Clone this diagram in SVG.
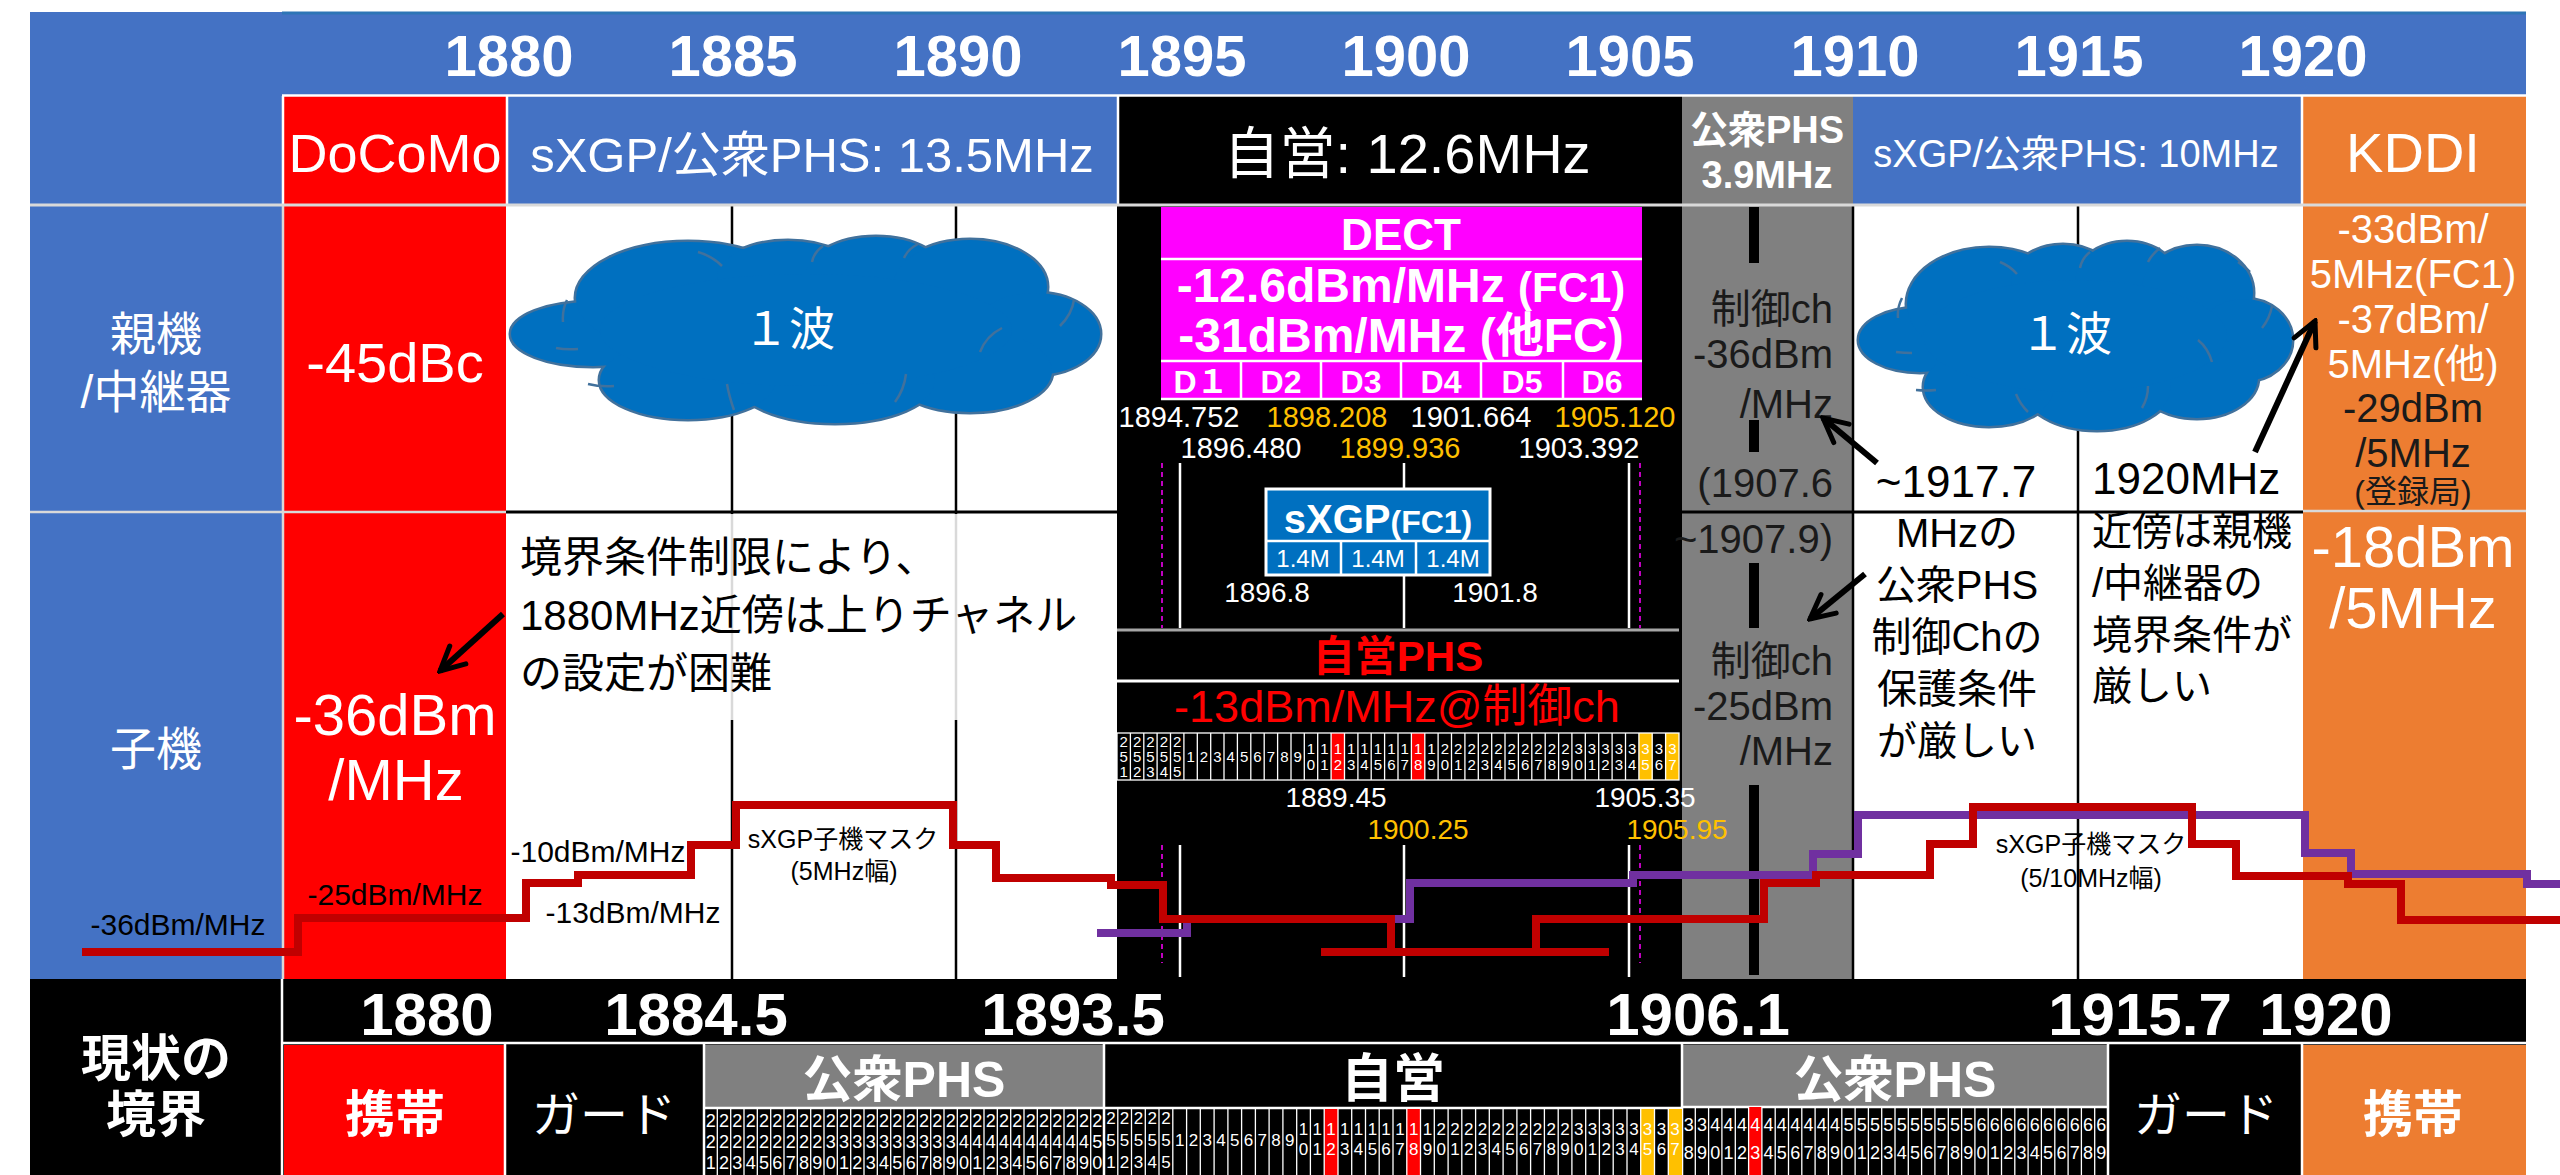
<svg xmlns="http://www.w3.org/2000/svg" width="2560" height="1175" viewBox="0 0 2560 1175">
<style>
text{font-family:"Liberation Sans","Noto Sans CJK JP",sans-serif;}
.c{text-anchor:middle}
.e{text-anchor:end}
.b{font-weight:bold}
.w{fill:#fff}
.k{fill:#000}
.dk{fill:#1a1a1a}
.or{fill:#FFC000}
.rt{fill:#FF0000}
.blue{fill:#4472C4}
.red{fill:#FF0000}
.orange{fill:#ED7D31}
.gray{fill:#808080}
.blk{fill:#000}
.vl{stroke:#000;stroke-width:2.5;fill:none}
.lg{stroke:#D9D9D9;stroke-width:2.5;fill:none}
.wl{stroke:#fff;stroke-width:2.5;fill:none}
.grid{stroke:#fff;stroke-width:1.3;fill:none}
.cl1 ellipse{fill:#0070C0;stroke:#41719C;stroke-width:5}
.cl2 ellipse{fill:#0070C0}
.ca{fill:none;stroke:#41719C;stroke-width:2.5}
.mr{fill:none;stroke:#C00000;stroke-width:8}
.mp{fill:none;stroke:#7030A0;stroke-width:8}
.arr{fill:none;stroke:#000;stroke-width:6;marker-end:url(#ah)}
.bar{fill:#000}
.dash{stroke:#FF00FF;stroke-width:1.5;stroke-dasharray:5 4;fill:none}
</style>
<defs>
<marker id="ah" markerUnits="userSpaceOnUse" markerWidth="32" markerHeight="32" viewBox="0 0 32 32" refX="29" refY="16" orient="auto">
<path d="M5,4 L29,16 L5,28" fill="none" stroke="#000" stroke-width="5" stroke-linecap="round" stroke-linejoin="miter"/>
</marker>
</defs>
<rect width="2560" height="1175" fill="#fff"/>

<g id="row-labels">
<rect x="30" y="12" width="252" height="967" class="blue"/>
<text x="156" y="350" class="c w" font-size="46">親機</text>
<text x="156" y="408" class="c w" font-size="46">/中継器</text>
<text x="156" y="765" class="c w" font-size="46">子機</text>
</g>

<g id="freq-axis">
<rect x="282" y="12" width="2244" height="83" class="blue"/>
<line x1="282" y1="13" x2="2526" y2="13" stroke="#2E75B6" stroke-width="3"/>
<g class="c w b" font-size="58">
<text x="509" y="76">1880</text><text x="733" y="76">1885</text><text x="958" y="76">1890</text>
<text x="1182" y="76">1895</text><text x="1406" y="76">1900</text><text x="1630" y="76">1905</text>
<text x="1855" y="76">1910</text><text x="2079" y="76">1915</text><text x="2303" y="76">1920</text>
</g>
</g>

<g id="col-docomo">
<rect x="284" y="96" width="222" height="883" class="red"/>
<text x="395" y="172" class="c w" font-size="54">DoCoMo</text>
<text x="395" y="382" class="c w" font-size="56">-45dBc</text>
<text x="395" y="735" class="c w" font-size="58">-36dBm</text>
<text x="396" y="800" class="c w" font-size="58">/MHz</text>
</g>

<g id="col-sxgp-13-5">
<rect x="508" y="96" width="611" height="108" class="blue"/>
<text x="812" y="172" class="c w" font-size="49">sXGP/公衆PHS: 13.5MHz</text>
<path class="vl" d="M732,206V514M956,206V514M732,720V979M956,720V979"/>
<path class="lg" d="M732,514V720M956,514V720"/>
</g>

<g id="col-jiei">
<rect x="1117" y="96" width="565" height="883" class="blk"/>
<text x="1407" y="173" class="c w" font-size="56">自営: 12.6MHz</text>
</g>

<g id="col-public-phs">
<rect x="1682" y="96" width="171" height="883" class="gray"/>
<text x="1767" y="143" class="c w b" font-size="38">公衆PHS</text>
<text x="1767" y="188" class="c w b" font-size="38">3.9MHz</text>
<rect x="1749" y="207" width="10" height="56" class="bar"/>
<rect x="1749" y="420" width="10" height="32" class="bar"/>
<rect x="1749" y="563" width="10" height="65" class="bar"/>
<rect x="1749" y="785" width="10" height="190" class="bar"/>
<g class="e dk" font-size="40">
<text x="1833" y="323">制御ch</text>
<text x="1833" y="368">-36dBm</text>
<text x="1833" y="418">/MHz</text>
<text x="1833" y="497">(1907.6</text>
<text x="1833" y="553">~1907.9)</text>
<text x="1833" y="675">制御ch</text>
<text x="1833" y="720">-25dBm</text>
<text x="1833" y="765">/MHz</text>
</g>
<line x1="1853" y1="206" x2="1853" y2="979" class="vl"/>
</g>

<g id="col-sxgp-10">
<rect x="1853" y="96" width="449" height="108" class="blue"/>
<text x="2076" y="167" class="c w" font-size="38">sXGP/公衆PHS: 10MHz</text>
<line x1="2078" y1="206" x2="2078" y2="979" class="vl"/>
</g>

<g id="col-kddi">
<rect x="2303" y="96" width="223" height="883" class="orange"/>
<text x="2413" y="172" class="c w" font-size="56">KDDI</text>
<g class="c" font-size="40">
<text x="2413" y="243" class="w">-33dBm/</text>
<text x="2413" y="288" class="w">5MHz(FC1)</text>
<text x="2413" y="333" class="w">-37dBm/</text>
<text x="2413" y="378" class="w">5MHz(他)</text>
<text x="2413" y="422" class="dk">-29dBm</text>
<text x="2413" y="467" class="dk">/5MHz</text>
<text x="2413" y="503" class="dk" font-size="32">(登録局)</text>
</g>
<text x="2413" y="567" class="c w" font-size="58">-18dBm</text>
<text x="2413" y="628" class="c w" font-size="58">/5MHz</text>
</g>

<g id="grid-lines">
<line x1="282" y1="95.5" x2="2526" y2="95.5" class="wl"/>
<path class="wl" d="M283,96V204M507,96V204M1118,96V204M2302,96V204"/>
<line x1="30" y1="205" x2="2526" y2="205" stroke="#D9D9D9" stroke-width="3"/>
<path class="lg" d="M30,512H506M2303,511H2526" stroke-width="3"/>
<path d="M506,512H1118M1682,512H2303" stroke="#000" stroke-width="3" fill="none"/>
<line x1="283" y1="206" x2="283" y2="979" class="lg"/>
</g>

<g id="cloud-left">
<g class="cl1">
<ellipse cx="593" cy="334" rx="82" ry="32"/><ellipse cx="688" cy="298" rx="112" ry="56"/><ellipse cx="788" cy="278" rx="71" ry="37"/><ellipse cx="876" cy="278" rx="71" ry="41"/><ellipse cx="970" cy="287" rx="77" ry="47"/><ellipse cx="1035" cy="334" rx="65" ry="41"/><ellipse cx="970" cy="371" rx="82" ry="41"/><ellipse cx="835" cy="380" rx="100" ry="43"/><ellipse cx="688" cy="380" rx="88" ry="39"/>
</g>
<g class="cl2">
<ellipse cx="593" cy="334" rx="82" ry="32"/><ellipse cx="688" cy="298" rx="112" ry="56"/><ellipse cx="788" cy="278" rx="71" ry="37"/><ellipse cx="876" cy="278" rx="71" ry="41"/><ellipse cx="970" cy="287" rx="77" ry="47"/><ellipse cx="1035" cy="334" rx="65" ry="41"/><ellipse cx="970" cy="371" rx="82" ry="41"/><ellipse cx="835" cy="380" rx="100" ry="43"/><ellipse cx="688" cy="380" rx="88" ry="39"/><ellipse cx="806" cy="330" rx="206" ry="56"/>
</g>
<path class="ca" d="M698,252Q712,256 722,266M812,262Q814,252 823,246M904,258Q908,249 918,244M1074,300Q1072,314 1060,326M1002,328Q986,336 980,352M906,374Q904,390 895,402M727,384Q729,396 734,410M588,384Q600,387 614,386M556,348Q566,350 578,349M563,322Q562,310 567,300"/>
<text x="789" y="345" class="c w" font-size="46">１波</text>
</g>

<g id="cloud-right">
<g class="cl1">
<ellipse cx="1920" cy="340" rx="61" ry="32"/><ellipse cx="1989" cy="304" rx="82" ry="56"/><ellipse cx="2063" cy="283" rx="52" ry="38"/><ellipse cx="2127" cy="283" rx="52" ry="41"/><ellipse cx="2197" cy="293" rx="56" ry="47"/><ellipse cx="2244" cy="340" rx="48" ry="41"/><ellipse cx="2197" cy="377" rx="61" ry="41"/><ellipse cx="2097" cy="387" rx="74" ry="43"/><ellipse cx="1989" cy="387" rx="65" ry="39"/>
</g>
<g class="cl2">
<ellipse cx="1920" cy="340" rx="61" ry="32"/><ellipse cx="1989" cy="304" rx="82" ry="56"/><ellipse cx="2063" cy="283" rx="52" ry="38"/><ellipse cx="2127" cy="283" rx="52" ry="41"/><ellipse cx="2197" cy="293" rx="56" ry="47"/><ellipse cx="2244" cy="340" rx="48" ry="41"/><ellipse cx="2197" cy="377" rx="61" ry="41"/><ellipse cx="2097" cy="387" rx="74" ry="43"/><ellipse cx="1989" cy="387" rx="65" ry="39"/><ellipse cx="2075" cy="336" rx="152" ry="56"/>
</g>
<path class="ca" d="M2000,262Q2010,266 2017,274M2080,268Q2082,258 2090,252M2148,262Q2152,254 2160,248M2238,262Q2244,266 2250,272M2272,306Q2270,318 2262,328M2198,340Q2208,348 2212,362M2148,386Q2148,398 2142,408M2016,394Q2020,404 2028,412M1916,390Q1926,391 1936,390M1896,352Q1904,353 1912,353M1898,318Q1897,308 1902,298"/>
<text x="2066" y="350" class="c w" font-size="46">１波</text>
</g>

<g id="dect">
<rect x="1161" y="207" width="481" height="192" fill="#FF00FF"/>
<path class="wl" stroke-width="3" d="M1161,259H1642M1161,361H1642M1161,399H1642"/>
<path class="wl" d="M1241,361V399M1321,361V399M1401,361V399M1481,361V399M1563,361V399"/>
<text x="1401" y="250" class="c w b" font-size="44">DECT</text>
<text x="1401" y="302" class="c w b" font-size="48">-12.6dBm/MHz <tspan font-size="42">(FC1)</tspan></text>
<text x="1401" y="352" class="c w b" font-size="48">-31dBm/MHz (他FC)</text>
<g class="c w b" font-size="32">
<text x="1201" y="393">D１</text><text x="1281" y="393">D2</text><text x="1361" y="393">D3</text><text x="1441" y="393">D4</text><text x="1522" y="393">D5</text><text x="1602" y="393">D6</text>
</g>
<g class="c" font-size="29">
<text x="1179" y="427" class="w">1894.752</text>
<text x="1327" y="427" class="or">1898.208</text>
<text x="1471" y="427" class="w">1901.664</text>
<text x="1615" y="427" class="or">1905.120</text>
<text x="1241" y="458" class="w">1896.480</text>
<text x="1400" y="458" class="or">1899.936</text>
<text x="1579" y="458" class="w">1903.392</text>
</g>
</g>

<g id="jiei-guides">
<path class="wl" d="M1180,463V628M1629,463V628M1404,463V489M1404,575V628M1180,845V977M1404,845V977M1629,845V977"/>
<path class="dash" d="M1162,463V628M1640,463V628M1162,845V963M1640,845V963"/>
<line x1="1117" y1="630" x2="1679" y2="630" stroke="#A6A6A6" stroke-width="3"/>
<line x1="1117" y1="681" x2="1679" y2="681" stroke="#fff" stroke-width="3"/>
</g>

<g id="sxgp-fc1">
<rect x="1266" y="489" width="224" height="86" fill="#0070C0" stroke="#fff" stroke-width="3"/>
<path class="wl" d="M1266,541H1490M1341,541V575M1416,541V575"/>
<text x="1378" y="533" class="c w b" font-size="40">sXGP<tspan font-size="32">(FC1)</tspan></text>
<g class="c w" font-size="24">
<text x="1303" y="567">1.4M</text><text x="1378" y="567">1.4M</text><text x="1453" y="567">1.4M</text>
</g>
<text x="1267" y="602" class="c w" font-size="28">1896.8</text>
<text x="1495" y="602" class="c w" font-size="28">1901.8</text>
</g>

<g id="jiei-phs">
<text x="1398" y="671" class="c b rt" font-size="42">自営PHS</text>
<text x="1397" y="722" class="c rt" font-size="45">-13dBm/MHz@制御ch</text>
<rect x="1117" y="733" width="562" height="47" fill="#000"/>
<rect x="1331.1" y="733" width="13.4" height="47" fill="#FF0000"/>
<rect x="1411.4" y="733" width="13.4" height="47" fill="#FF0000"/>
<rect x="1638.9" y="733" width="13.4" height="47" fill="#FFC000"/>
<rect x="1665.6" y="733" width="13.4" height="47" fill="#FFC000"/>
<rect x="1117" y="733" width="562" height="47" class="grid" stroke-width="2"/>
<path class="grid" d="M1130.4,733V780M1143.8,733V780M1157.1,733V780M1170.5,733V780M1183.9,733V780M1197.3,733V780M1210.7,733V780M1224.0,733V780M1237.4,733V780M1250.8,733V780M1264.2,733V780M1277.6,733V780M1291.0,733V780M1304.3,733V780M1317.7,733V780M1331.1,733V780M1344.5,733V780M1357.9,733V780M1371.2,733V780M1384.6,733V780M1398.0,733V780M1411.4,733V780M1424.8,733V780M1438.1,733V780M1451.5,733V780M1464.9,733V780M1478.3,733V780M1491.7,733V780M1505.0,733V780M1518.4,733V780M1531.8,733V780M1545.2,733V780M1558.6,733V780M1571.9,733V780M1585.3,733V780M1598.7,733V780M1612.1,733V780M1625.5,733V780M1638.9,733V780M1652.2,733V780M1665.6,733V780"/>
<g class="c w" font-size="15">
<text x="1123.7 1137.1 1150.5 1163.8 1177.2" y="747">22222</text>
<text x="1123.7 1137.1 1150.5 1163.8 1177.2" y="762">55555</text>
<text x="1123.7 1137.1 1150.5 1163.8 1177.2" y="777">12345</text>
<text x="1190.6 1204.0 1217.4 1230.7 1244.1 1257.5 1270.9 1284.3 1297.6" y="762">123456789</text>
<text x="1311.0 1324.4 1337.8 1351.2 1364.5 1377.9 1391.3 1404.7 1418.1 1431.4 1444.8 1458.2 1471.6 1485.0 1498.4 1511.7 1525.1 1538.5 1551.9 1565.3 1578.6 1592.0 1605.4 1618.8 1632.2 1645.5 1658.9 1672.3" y="754">1111111111222222222233333333</text>
<text x="1311.0 1324.4 1337.8 1351.2 1364.5 1377.9 1391.3 1404.7 1418.1 1431.4 1444.8 1458.2 1471.6 1485.0 1498.4 1511.7 1525.1 1538.5 1551.9 1565.3 1578.6 1592.0 1605.4 1618.8 1632.2 1645.5 1658.9 1672.3" y="770">0123456789012345678901234567</text>
</g>
<g class="c" font-size="28">
<text x="1336" y="807" class="w">1889.45</text>
<text x="1645" y="807" class="w">1905.35</text>
<text x="1418" y="839" class="or">1900.25</text>
<text x="1677" y="839" class="or">1905.95</text>
</g>
</g>

<g id="notes">
<g class="k" font-size="42">
<text x="520" y="572">境界条件制限により、</text>
<text x="520" y="630">1880MHz近傍は上りチャネル</text>
<text x="520" y="688">の設定が困難</text>
</g>
<g class="c k" font-size="40">
<text x="1957" y="547">MHzの</text>
<text x="1957" y="599">公衆PHS</text>
<text x="1957" y="651">制御Chの</text>
<text x="1957" y="703">保護条件</text>
<text x="1957" y="755">が厳しい</text>
</g>
<g class="k" font-size="40">
<text x="2092" y="545">近傍は親機</text>
<text x="2092" y="597">/中継器の</text>
<text x="2092" y="649">境界条件が</text>
<text x="2092" y="700">厳しい</text>
</g>
<text x="1956" y="497" class="c k" font-size="44">~1917.7</text>
<text x="2092" y="494" class="k" font-size="44">1920MHz</text>
</g>

<g id="masks">
<path class="mp" d="M1097,933H1187V919H1410V883H1633V875H1813V854H1858V815H2305V853H2351V874H2527V884H2560"/>
<path class="mr" d="M82,952H298V918H526V883H578V875H691V845H736V805H953V845H996V878H1111V885H1163V919H1391V952"/>
<path class="mr" d="M1321,952H1609"/>
<path class="mr" d="M1536,952V919H1764V883H1816V875H1930V844H1973V807H2192V844H2236V876H2348V884H2401V920H2560"/>
<g class="c k" font-size="30">
<text x="178" y="935">-36dBm/MHz</text>
<text x="395" y="905">-25dBm/MHz</text>
<text x="598" y="862">-10dBm/MHz</text>
<text x="633" y="923">-13dBm/MHz</text>
</g>
<g class="c k" font-size="25">
<text x="843" y="848">sXGP子機マスク</text>
<text x="844" y="880">(5MHz幅)</text>
<text x="2091" y="853">sXGP子機マスク</text>
<text x="2091" y="887">(5/10MHz幅)</text>
</g>
</g>

<g id="current-boundary">
<rect x="30" y="979" width="2496" height="196" fill="#000"/>
<text x="156" y="1076" class="c w b" font-size="50">現状の</text>
<text x="156" y="1132" class="c w b" font-size="50">境界</text>
<g class="c w b" font-size="60">
<text x="427" y="1035">1880</text><text x="696" y="1035">1884.5</text><text x="1073" y="1035">1893.5</text>
<text x="1698" y="1035">1906.1</text><text x="2140" y="1035">1915.7</text><text x="2326" y="1035">1920</text>
</g>
<rect x="284" y="1045" width="221" height="130" class="red"/>
<text x="395" y="1132" class="c w b" font-size="50">携帯</text>
<text x="604" y="1132" class="c w" font-size="48">ガード</text>
<rect x="704" y="1045" width="400" height="63" class="gray"/>
<text x="904" y="1097" class="c w b" font-size="50">公衆PHS</text>
<text x="1393" y="1097" class="c w b" font-size="52">自営</text>
<rect x="1682" y="1045" width="426" height="62" class="gray"/>
<text x="1895" y="1097" class="c w b" font-size="50">公衆PHS</text>
<text x="2206" y="1132" class="c w" font-size="48">ガード</text>
<rect x="2303" y="1045" width="223" height="130" class="orange"/>
<text x="2413" y="1132" class="c w b" font-size="50">携帯</text>
<path class="wl" d="M282,979V1175M282,1043H2526M505,1043V1175M704,1043V1175M1104,1043V1175M1682,1043V1175M2108,1043V1175M2302,1043V1175M704,1108H1682M1682,1107H2108"/>
<path class="grid" d="M717.3,1109V1175M730.7,1109V1175M744,1109V1175M757.3,1109V1175M770.7,1109V1175M784,1109V1175M797.3,1109V1175M810.7,1109V1175M824,1109V1175M837.3,1109V1175M850.7,1109V1175M864,1109V1175M877.3,1109V1175M890.7,1109V1175M904,1109V1175M917.3,1109V1175M930.7,1109V1175M944,1109V1175M957.3,1109V1175M970.7,1109V1175M984,1109V1175M997.3,1109V1175M1010.7,1109V1175M1024,1109V1175M1037.3,1109V1175M1050.7,1109V1175M1064,1109V1175M1077.3,1109V1175M1090.7,1109V1175"/>
<g class="c w" font-size="18">
<text x="710.7 724.0 737.3 750.7 764.0 777.3 790.7 804.0 817.3 830.7 844.0 857.3 870.7 884.0 897.3 910.7 924.0 937.3 950.7 964.0 977.3 990.7 1004.0 1017.3 1030.7 1044.0 1057.3 1070.7 1084.0 1097.3" y="1127">222222222222222222222222222222</text>
<text x="710.7 724.0 737.3 750.7 764.0 777.3 790.7 804.0 817.3 830.7 844.0 857.3 870.7 884.0 897.3 910.7 924.0 937.3 950.7 964.0 977.3 990.7 1004.0 1017.3 1030.7 1044.0 1057.3 1070.7 1084.0 1097.3" y="1148">222222222333333333344444444445</text>
<text x="710.7 724.0 737.3 750.7 764.0 777.3 790.7 804.0 817.3 830.7 844.0 857.3 870.7 884.0 897.3 910.7 924.0 937.3 950.7 964.0 977.3 990.7 1004.0 1017.3 1030.7 1044.0 1057.3 1070.7 1084.0 1097.3" y="1169">123456789012345678901234567890</text>
</g>
<rect x="1324.2" y="1109" width="13.8" height="66" fill="#FF0000"/>
<rect x="1406.8" y="1109" width="13.8" height="66" fill="#FF0000"/>
<rect x="1640.7" y="1109" width="13.8" height="66" fill="#FFC000"/>
<rect x="1668.3" y="1109" width="13.7" height="66" fill="#FFC000"/>
<path class="grid" d="M1117.8,1109V1175M1131.5,1109V1175M1145.3,1109V1175M1159.0,1109V1175M1172.8,1109V1175M1186.6,1109V1175M1200.3,1109V1175M1214.1,1109V1175M1227.9,1109V1175M1241.6,1109V1175M1255.4,1109V1175M1269.1,1109V1175M1282.9,1109V1175M1296.7,1109V1175M1310.4,1109V1175M1324.2,1109V1175M1338.0,1109V1175M1351.7,1109V1175M1365.5,1109V1175M1379.2,1109V1175M1393.0,1109V1175M1406.8,1109V1175M1420.5,1109V1175M1434.3,1109V1175M1448.1,1109V1175M1461.8,1109V1175M1475.6,1109V1175M1489.3,1109V1175M1503.1,1109V1175M1516.9,1109V1175M1530.6,1109V1175M1544.4,1109V1175M1558.2,1109V1175M1571.9,1109V1175M1585.7,1109V1175M1599.4,1109V1175M1613.2,1109V1175M1627.0,1109V1175M1640.7,1109V1175M1654.5,1109V1175M1668.3,1109V1175"/>
<g class="c w" font-size="17">
<text x="1110.9 1124.6 1138.4 1152.2 1165.9" y="1124">22222</text>
<text x="1110.9 1124.6 1138.4 1152.2 1165.9" y="1146">55555</text>
<text x="1110.9 1124.6 1138.4 1152.2 1165.9" y="1168">12345</text>
<text x="1179.7 1193.5 1207.2 1221.0 1234.7 1248.5 1262.3 1276.0 1289.8" y="1146">123456789</text>
<text x="1303.6 1317.3 1331.1 1344.8 1358.6 1372.4 1386.1 1399.9 1413.7 1427.4 1441.2 1454.9 1468.7 1482.5 1496.2 1510.0 1523.8 1537.5 1551.3 1565.0 1578.8 1592.6 1606.3 1620.1 1633.9 1647.6 1661.4 1675.1" y="1135">1111111111222222222233333333</text>
<text x="1303.6 1317.3 1331.1 1344.8 1358.6 1372.4 1386.1 1399.9 1413.7 1427.4 1441.2 1454.9 1468.7 1482.5 1496.2 1510.0 1523.8 1537.5 1551.3 1565.0 1578.8 1592.6 1606.3 1620.1 1633.9 1647.6 1661.4 1675.1" y="1155">0123456789012345678901234567</text>
</g>
<rect x="1748.6" y="1107" width="13.3" height="68" fill="#FF0000"/>
<path class="grid" d="M1695.3,1107V1175M1708.6,1107V1175M1721.9,1107V1175M1735.3,1107V1175M1748.6,1107V1175M1761.9,1107V1175M1775.2,1107V1175M1788.5,1107V1175M1801.8,1107V1175M1815.1,1107V1175M1828.4,1107V1175M1841.8,1107V1175M1855.1,1107V1175M1868.4,1107V1175M1881.7,1107V1175M1895,1107V1175M1908.3,1107V1175M1921.6,1107V1175M1934.9,1107V1175M1948.3,1107V1175M1961.6,1107V1175M1974.9,1107V1175M1988.2,1107V1175M2001.5,1107V1175M2014.8,1107V1175M2028.1,1107V1175M2041.4,1107V1175M2054.8,1107V1175M2068.1,1107V1175M2081.4,1107V1175M2094.7,1107V1175"/>
<g class="c w" font-size="18">
<text x="1688.7 1702.0 1715.3 1728.6 1741.9 1755.2 1768.5 1781.8 1795.2 1808.5 1821.8 1835.1 1848.4 1861.7 1875.0 1888.3 1901.7 1915.0 1928.3 1941.6 1954.9 1968.2 1981.5 1994.8 2008.2 2021.5 2034.8 2048.1 2061.4 2074.7 2088.0 2101.3" y="1131">33444444444455555555556666666666</text>
<text x="1688.7 1702.0 1715.3 1728.6 1741.9 1755.2 1768.5 1781.8 1795.2 1808.5 1821.8 1835.1 1848.4 1861.7 1875.0 1888.3 1901.7 1915.0 1928.3 1941.6 1954.9 1968.2 1981.5 1994.8 2008.2 2021.5 2034.8 2048.1 2061.4 2074.7 2088.0 2101.3" y="1159">89012345678901234567890123456789</text>
</g>
</g>

<g id="connectors">
<line x1="503" y1="614" x2="440" y2="671" class="arr"/>
<line x1="1877" y1="463" x2="1823" y2="418" class="arr"/>
<line x1="2255" y1="452" x2="2315" y2="321" class="arr"/>
<line x1="1865" y1="574" x2="1810" y2="619" class="arr"/>
</g>
</svg>
